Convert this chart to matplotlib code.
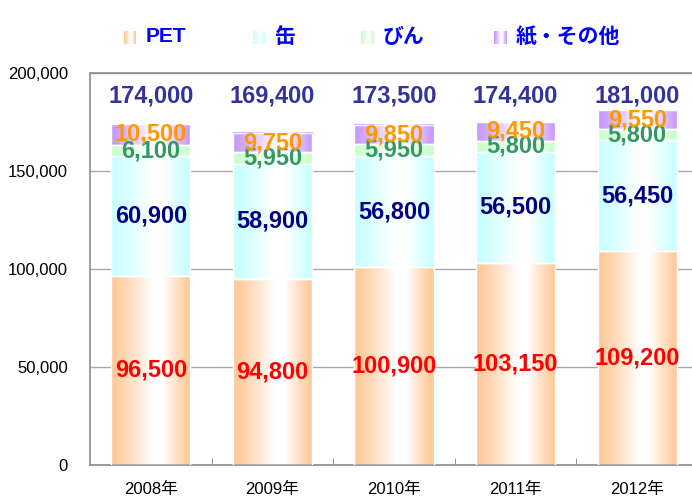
import numpy as np
import matplotlib
matplotlib.use("Agg")
import matplotlib.pyplot as plt
from matplotlib.colors import to_rgb

# ---- data ----
years = ["2008年", "2009年", "2010年", "2011年", "2012年"]
series_names = ["PET", "缶", "びん", "紙・その他"]
pet = [96500, 94800, 100900, 103150, 109200]
can = [60900, 58900, 56800, 56500, 56450]
bottle = [6100, 5950, 5950, 5800, 5800]
paper = [10500, 9750, 9850, 9450, 9550]
totals = [174000, 169400, 173500, 174400, 181000]
yticks = [0, 50000, 100000, 150000, 200000]

series = [pet, can, bottle, paper]
fill_colors = ["#FFC896", "#C8FFFF", "#C8FFC8", "#C896FF"]
label_colors = ["#FF0000", "#000080", "#339966", "#FF9900"]

FONT = ["Liberation Sans", "Noto Sans CJK JP", "DejaVu Sans"]
plt.rcParams["font.family"] = FONT

W, H = 692, 500
fig = plt.figure(figsize=(W / 100, H / 100), dpi=100)
ax_left, ax_right, ax_top, ax_bottom = 90, 698, 73, 465
ax = fig.add_axes([ax_left / W, 1 - ax_bottom / H, (ax_right - ax_left) / W, (ax_bottom - ax_top) / H])


def gradient_img(color, n=200):
    c = np.array(to_rgb(color))
    t = np.linspace(0, 1, n)
    peak = 0.6
    w = np.where(t < peak, t / peak, (1 - t) / (1 - peak))
    w = np.clip(w * 1.15, 0, 1) ** 1.2
    rgb = c[None, :] * (1 - w[:, None]) + np.ones(3)[None, :] * w[:, None]
    return rgb[None, :, :]


x = np.arange(len(years))
bar_w = 0.65
bottom = np.zeros(len(years))
for vals, fc, lc in zip(series, fill_colors, label_colors):
    vals = np.array(vals, dtype=float)
    rects = ax.bar(x, vals, bar_w, bottom=bottom, facecolor="none",
                   edgecolor="white", linewidth=1.0, zorder=3)
    img = gradient_img(fc)
    for r, v in zip(rects, vals):
        x0, y0 = r.get_x(), r.get_y()
        ax.imshow(img, extent=[x0, x0 + r.get_width(), y0, y0 + r.get_height()],
                  aspect="auto", zorder=2, interpolation="bilinear")
        ax.text(x0 + r.get_width() / 2, y0 + r.get_height() / 2, f"{int(v):,}",
                ha="center", va="center", color=lc, fontsize=17,
                fontweight="bold", zorder=5)
    bottom = bottom + vals

for xi, t in zip(x, totals):
    ax.text(xi, 188500, f"{t:,}", ha="center", va="center", color="#333399",
            fontsize=17, fontweight="bold", zorder=5)

ax.set_xlim(-0.5, len(years) - 0.5)
ax.set_ylim(0, 200000)
ax.set_yticks(yticks)
ax.set_yticklabels([f"{v:,}" for v in yticks], fontsize=12)
ax.set_xticks(x)
ax.set_xticklabels(years, fontsize=12)
ax.set_xticks(np.arange(len(years) - 1) + 0.5, minor=True)
ax.tick_params(axis="x", which="major", length=0, pad=12)
ax.tick_params(axis="x", which="minor", direction="in", length=5, color="#808080")
ax.tick_params(axis="y", length=0, pad=16)
ax.yaxis.grid(True, color="#A8A8A8", linewidth=1)
ax.set_axisbelow(True)
for s in ["left", "bottom", "top"]:
    ax.spines[s].set_color("#8C8C8C")
    ax.spines[s].set_linewidth(1.2)
ax.spines["right"].set_visible(False)

# legend
legend_text_x = [146, 275, 383, 516]
for name, fc, tx in zip(series_names, fill_colors, legend_text_x):
    mx0 = tx - 22
    lax = fig.add_axes([mx0 / W, 1 - 44 / H, 12 / W, 13 / H])
    lax.imshow(gradient_img(fc, 40), aspect="auto", interpolation="bilinear")
    lax.axis("off")
    fig.text(tx / W, 1 - 37 / H, name, ha="left", va="center", color="#0000FF",
             fontsize=15, fontweight="bold", family=FONT)

fig.savefig("out.png", dpi=100)
